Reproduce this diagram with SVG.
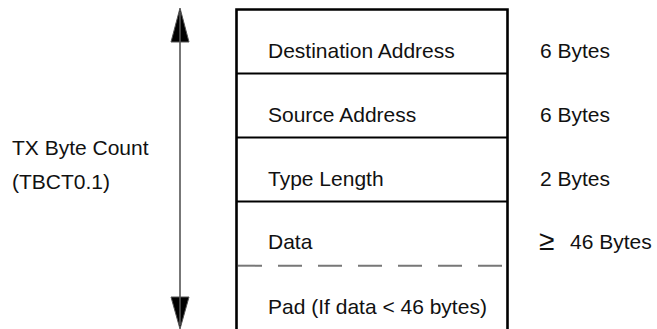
<svg xmlns="http://www.w3.org/2000/svg" width="657" height="329" viewBox="0 0 657 329">
<style>
text{font-family:"Liberation Sans",Arial,Helvetica,sans-serif;font-size:21px;fill:#111}
.sym{font-size:28px}
.box{fill:none;stroke:#000;stroke-width:2.6}
.div{stroke:#000;stroke-width:2.2}
.dash{stroke:#777;stroke-width:2;stroke-dasharray:24 16}
.head{fill:#000;stroke:#555;stroke-width:1}
.shaft{stroke:#555;stroke-width:1.6}
</style>
<rect width="657" height="329" fill="#fff"/>
<g id="connectors">
<polygon class="head" points="180,8 171,42 189,42"/>
<polygon class="head" points="171,297 189,297 180,329"/>
<line class="shaft" x1="180" y1="12" x2="180" y2="325"/>
</g>
<g id="frame">
<polyline class="box" points="236.5,335 236.5,9.5 507.5,9.5 507.5,335"/>
</g>
<g id="destination">
<line class="div" x1="236" y1="73.5" x2="508" y2="73.5"/>
<text x="268" y="58">Destination Address</text>
<text x="540" y="58">6 Bytes</text>
</g>
<g id="source">
<line class="div" x1="236" y1="137.5" x2="508" y2="137.5"/>
<text x="268" y="122">Source Address</text>
<text x="540" y="122">6 Bytes</text>
</g>
<g id="typelength">
<line class="div" x1="236" y1="201.5" x2="508" y2="201.5"/>
<text x="268" y="186">Type Length</text>
<text x="540" y="186">2 Bytes</text>
</g>
<g id="data">
<text x="268" y="249">Data</text>
<text x="539" y="250"><tspan class="sym">≥</tspan><tspan x="570" y="249">46 Bytes</tspan></text>
</g>
<g id="pad">
<line class="dash" x1="238" y1="265.7" x2="502" y2="265.7"/>
<text x="268" y="314">Pad (If data &lt; 46 bytes)</text>
</g>
<g id="label">
<text x="12" y="155">TX Byte Count</text>
<text x="12" y="189">(TBCT0.1)</text>
</g>
</svg>
